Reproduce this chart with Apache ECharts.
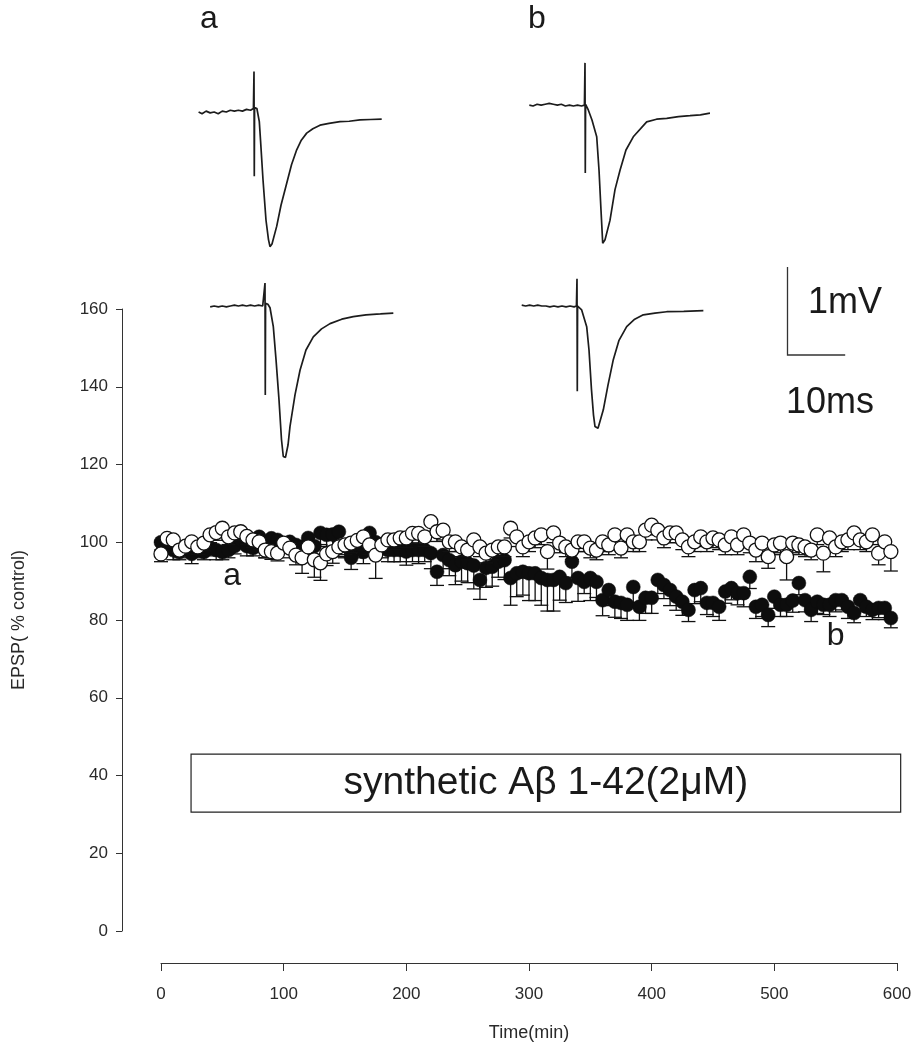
<!DOCTYPE html>
<html><head><meta charset="utf-8">
<script src="https://cdn.jsdelivr.net/npm/echarts@6/dist/echarts.min.js"></script>
<style>html,body{margin:0;padding:0;background:#fff}#c{width:919px;height:1051px}</style>
</head><body><div id="c"></div>
<script>
// ---------- data ----------
const times = [0,5,10,15,20,25,30,35,40,45,50,55,60,65,70,75,80,85,90,95,100,105,110,115,
120,125,130,135,140,145,150,155,160,165,170,175,180,185,190,195,200,205,210,215,220,225,230,235,
240,245,250,255,260,265,270,275,280,285,290,295,300,305,310,315,320,325,330,335,340,345,350,355,
360,365,370,375,380,385,390,395,400,405,410,415,420,425,430,435,440,445,450,455,460,465,470,475,
480,485,490,495,500,505,510,515,520,525,530,535,540,545,550,555,560,565,570,575,580,585,590,595];

// open circles (control)
const controlMean = [97,101,100.6,98,99,100.1,98.8,99.8,101.9,102.5,103.6,101.4,
102.4,102.7,101.5,100.6,100.1,98,97.6,97.2,99.8,98.5,96.7,96,
98.8,95.5,94.7,97,97.6,98.8,99.3,99.8,100.5,101.4,99.3,96.7,
99.3,100.6,100.6,101.1,101.1,102.3,102.3,101.4,105.3,102.7,103.1,100.1,
100.1,98.8,98,100.6,98.8,97.2,98,98.8,98.8,103.6,101.4,98.8,
100.1,101.1,101.9,97.6,102.4,99.8,98.8,98,100.1,100.1,98.5,98,
100.1,99.3,101.9,98.5,101.9,100.1,100.1,103.1,104.4,103.1,101.1,102.4,
102.4,100.6,98.8,100.1,101.4,100.1,101.1,100.6,99.3,101.4,99.3,101.9,
99.8,98,99.8,96.3,99.3,99.8,96.3,99.8,99.3,98.8,98,101.9,
97.2,101.1,98.8,100.1,100.6,102.4,100.6,100.1,101.9,97.2,100.1,97.6];
const controlErr = [2,2,2,2,2,2,2,2,2,2,2,2,
2,2,2,2,2,2,2,2,2,2.5,2.5,4,
3,4.5,4.5,3,3,2.5,2.5,2.5,2.5,2.5,2.5,6,
2.5,2.5,2.5,2.5,2.5,2.5,2.5,2.5,2.5,2.5,2.5,2.5,
2.5,2.5,2.5,2.5,2.5,2.5,2.5,2.5,2.5,2.5,2.5,2.5,
2.5,2.5,2.5,4.5,2.5,2.5,2.5,2.5,2.5,2.5,2.5,2.5,
2.5,2.5,2.5,2.5,2.5,2.5,2.5,2.5,2.5,2.5,2.5,2.5,
2.5,2.5,2.5,2.5,2.5,2.5,2.5,2.5,2.5,2.5,2.5,2.5,
2.5,3,2.5,3,2.5,2.5,6,2.5,2.5,2.5,2.5,2.5,
4.8,2.5,2.5,2.5,2.5,2.5,2.5,2.5,2.5,3,2.5,5];

// filled circles (synthetic Abeta 1-42)
const abetaMean = [100,99.5,98,97.5,98.5,97,98,97.5,98.5,98,97.5,98,
99,100.6,99,98.5,101.4,99,101,100.6,99.5,100.1,99.3,98.8,
101.1,99,102.4,101.9,102,102.7,99,96,99,97.5,102.4,100,
99,98,98,98,97.6,98,98,98,97.2,92.4,96.7,95.4,
94.1,95,94.6,94,90.3,93.4,93.7,95,95.4,90.8,92,92.4,
92,92,90.8,90.3,90.3,91.1,89.5,95,90.8,89.8,90.8,89.8,
85.1,87.7,84.7,84.4,83.9,88.5,83.4,85.7,85.7,90.3,89,87.7,
86,84.7,82.6,87.7,88.2,84.4,84.4,83.4,87.3,88.2,86.9,86.9,
91.1,83.4,83.9,81.3,86,83.9,83.9,85,89.5,85.1,82.6,84.7,
83.9,83.9,85.1,85.1,83.4,81.8,85.1,83.4,82.6,83.1,83.1,80.5];
const abetaErr = [2,2,2.5,2,2,2.5,2,2,2,2.5,2,2,
2,2,2.5,2,2,3,2,2,2,2,3,2,
3,2.5,3,3,3,2.5,3,3,3,3,2.5,3,
3,3,3,3,3.5,3,3.5,3,4,3.5,3.5,4,
5,5,5,6,5,5,5,4,5,7,6,6,
7,7,7,8,8,6,5,4,6,3,5.8,4,
4,4,4,4,4,4,3.5,4,4,3.5,3.5,4,
3.5,3.5,3,3.5,3.5,3,3.5,3.5,3,3,3,3.5,
3,3,3,3,3,3,3,3,3,3,3,3,
2.5,3,3,2.5,3,2.5,3,2.5,2.5,2.5,3,2.5];

const yTicks = [0,20,40,60,80,100,120,140,160];
const xTicks = [0,100,200,300,400,500,600];

// EPSP traces [ms from stimulus, mV from baseline]
const traceATop = [[-9.6,0.00],[-9.0,-0.02],[-8.3,0.01],[-7.6,-0.01],[-6.9,0.00],[-6.2,-0.02],[-5.5,0.01],[-4.8,0.00],[-4.1,0.02],[-3.4,0.01],[-2.7,0.02],[-2.0,0.01],[-1.3,0.03],[-0.6,0.02],[-0.1,0.04],[0,0.46],[0.05,-0.73],[0.1,0.05],[0.5,0.04],[0.92,-0.11],[1.13,-0.32],[1.56,-0.77],[2.08,-1.23],[2.51,-1.45],[2.77,-1.53],[3.12,-1.50],[3.93,-1.30],[4.68,-1.06],[5.67,-0.81],[6.5,-0.60],[7.40,-0.43],[8.2,-0.32],[9.13,-0.24],[10.2,-0.19],[11.44,-0.15],[13,-0.13],[14.9,-0.11],[16.5,-0.105],[18.37,-0.09],[20.2,-0.085],[22.13,-0.08]];
const traceABottom = [[-9.5,-0.01],[-8.8,0.00],[-8.1,-0.01],[-7.4,0.00],[-6.7,-0.01],[-6.0,0.00],[-5.3,0.01],[-4.6,0.00],[-3.9,0.01],[-3.2,0.00],[-2.5,0.01],[-1.8,0.00],[-1.1,0.01],[-0.4,0.00],[-0.1,0.02],[0,0.26],[0.05,-1.01],[0.1,0.03],[0.5,0.02],[0.87,-0.02],[1.44,-0.235],[1.91,-0.61],[2.43,-1.07],[2.86,-1.52],[3.17,-1.71],[3.55,-1.72],[3.99,-1.58],[4.33,-1.37],[5.2,-1.01],[6.07,-0.73],[7.1,-0.50],[8.37,-0.35],[9.8,-0.26],[11.27,-0.20],[13.3,-0.15],[15.3,-0.12],[17.5,-0.10],[20,-0.09],[22.24,-0.08]];
const traceBTop = [[-9.65,0.01],[-9.0,0.00],[-8.3,0.02],[-7.6,0.01],[-6.9,0.02],[-6.2,0.03],[-5.5,0.02],[-4.8,0.01],[-4.1,0.02],[-3.4,0.00],[-2.7,0.01],[-2.0,0.00],[-1.3,0.01],[-0.6,0.00],[-0.1,0.01],[0,0.49],[0.05,-0.76],[0.1,0.02],[0.57,-0.045],[1.21,-0.16],[2.03,-0.35],[2.43,-0.73],[2.77,-1.18],[3.07,-1.56],[3.47,-1.52],[4.33,-1.30],[5.2,-0.95],[6.07,-0.73],[7.1,-0.50],[8.37,-0.35],[10.69,-0.18],[12.4,-0.15],[14.16,-0.14],[16.2,-0.12],[18.2,-0.11],[20,-0.10],[21.66,-0.08]];
const traceBBottom = [[-9.58,0.01],[-8.9,0.00],[-8.2,0.01],[-7.5,0.00],[-6.8,0.01],[-6.1,0.00],[-5.4,0.00],[-4.7,-0.01],[-4.0,0.00],[-3.3,-0.01],[-2.6,0.00],[-1.9,-0.01],[-1.2,0.00],[-0.5,-0.01],[-0.1,0.00],[0,0.31],[0.05,-0.97],[0.1,0.0],[0.81,-0.045],[1.68,-0.235],[2.08,-0.50],[2.51,-0.95],[2.86,-1.24],[3.12,-1.37],[3.64,-1.39],[4.56,-1.18],[5.37,-0.90],[6.29,-0.61],[7.28,-0.39],[8.61,-0.235],[10,-0.15],[11.49,-0.10],[13.5,-0.08],[15.55,-0.065],[18.5,-0.06],[21.9,-0.053]];

const boxX = [24.5, 603];   // minutes
const boxY = [30.6, 45.5];  // % control
const boxText = 'synthetic A\u03b2 1-42(2\u03bcM)';

// ---------- chart ----------
const FONT = "'Liberation Sans', Arial, sans-serif";
const INK = '#1a1a1a';
const LAB = '#2a2a2a';
const chart = echarts.init(document.getElementById('c'), null, {renderer: 'canvas'});

const zip = (t, m, e) => t.map((x, i) => [x, m[i], e[i]]);
function errRender(params, api) {
  const x = api.value(0), m = api.value(1), e = api.value(2);
  const p0 = api.coord([x, m]);
  const p1 = api.coord([x, m - e]);
  const hw = 7;
  const st = {stroke: '#111', lineWidth: 1.3};
  return {type: 'group', children: [
    {type: 'line', shape: {x1: p0[0], y1: p0[1], x2: p1[0], y2: p1[1]}, style: st},
    {type: 'line', shape: {x1: p1[0] - hw, y1: p1[1], x2: p1[0] + hw, y2: p1[1]}, style: st}
  ]};
}

// inset geometry: 5.77 px/ms, 88 px/mV
const MS_MIN = -10, MS_MAX = 24, MV_MIN = -1.8, MV_MAX = 0.6;
const PXMS = 5.77, PXMV = 88;
const insetW = (MS_MAX - MS_MIN) * PXMS, insetH = (MV_MAX - MV_MIN) * PXMV;
const insetOrigins = [[254, 112], [265, 306], [585, 106], [577, 306]];
const traces = [traceATop, traceABottom, traceBTop, traceBBottom];

const grids = [{left: 161, top: 309, width: 736, height: 622}];
const xAxes = [{
  type: 'value', gridIndex: 0, min: 0, max: 600, interval: 100, offset: 32, position: 'bottom',
  axisLine: {show: true, onZero: false, lineStyle: {color: '#333', width: 1}},
  axisTick: {show: true, length: 8, lineStyle: {color: '#333', width: 1}},
  axisLabel: {fontSize: 17, color: LAB, margin: 23, fontFamily: FONT,
    formatter: v => xTicks.includes(v) ? String(v) : ''},
  splitLine: {show: false},
  name: 'Time(min)', nameLocation: 'middle', nameGap: 61,
  nameTextStyle: {fontSize: 18, color: LAB, fontFamily: FONT}
}];
const yAxes = [{
  type: 'value', gridIndex: 0, min: 0, max: 160, interval: 20, offset: 39,
  axisLine: {show: true, onZero: false, lineStyle: {color: '#333', width: 1}},
  axisTick: {show: true, length: 6, lineStyle: {color: '#333', width: 1}},
  axisLabel: {fontSize: 17, color: LAB, margin: 14, fontFamily: FONT,
    formatter: v => yTicks.includes(v) ? String(v) : ''},
  splitLine: {show: false},
  name: 'EPSP( % control)', nameLocation: 'middle', nameGap: 94, nameRotate: 90,
  nameTextStyle: {fontSize: 18, color: LAB, fontFamily: FONT}
}];
const series = [
  {type: 'custom', xAxisIndex: 0, yAxisIndex: 0, renderItem: errRender, encode: {x: 0, y: 1},
   data: zip(times, abetaMean, abetaErr), z: 2},
  {type: 'scatter', xAxisIndex: 0, yAxisIndex: 0, symbol: 'circle', symbolSize: 14,
   itemStyle: {color: '#0d0d0d', borderColor: '#0d0d0d', borderWidth: 0.5, opacity: 1},
   data: times.map((t, i) => [t, abetaMean[i]]), z: 3},
  {type: 'custom', xAxisIndex: 0, yAxisIndex: 0, renderItem: errRender, encode: {x: 0, y: 1},
   data: zip(times, controlMean, controlErr), z: 4},
  {type: 'scatter', xAxisIndex: 0, yAxisIndex: 0, symbol: 'circle', symbolSize: 14,
   itemStyle: {color: '#ffffff', borderColor: '#111', borderWidth: 1.3, opacity: 1},
   data: times.map((t, i) => [t, controlMean[i]]), z: 5}
];
insetOrigins.forEach((o, k) => {
  const gi = k + 1;
  grids.push({left: o[0] - (0 - MS_MIN) * PXMS, top: o[1] - MV_MAX * PXMV, width: insetW, height: insetH});
  xAxes.push({type: 'value', gridIndex: gi, min: MS_MIN, max: MS_MAX, show: false});
  yAxes.push({type: 'value', gridIndex: gi, min: MV_MIN, max: MV_MAX, show: false});
  series.push({type: 'line', xAxisIndex: gi, yAxisIndex: gi, data: traces[k], showSymbol: false,
    symbol: 'none', lineStyle: {color: '#1c1c1c', width: 1.7}, z: 6});
});

chart.setOption({
  animation: false,
  backgroundColor: '#ffffff',
  grid: grids, xAxis: xAxes, yAxis: yAxes, series: series
});

// annotations positioned through the main axes
const P = (x, y) => chart.convertToPixel({gridIndex: 0}, [x, y]);
const b0 = P(boxX[0], boxY[1]), b1 = P(boxX[1], boxY[0]);
const aLab = P(58, 91.3), bLab = P(550, 75.9);
const txt = (x, y, s, size, align) => ({type: 'text', x: x, y: y, style: {
  text: s, fontSize: size, fontFamily: FONT, fill: INK, align: align || 'center', verticalAlign: 'middle'}});
chart.setOption({graphic: [
  {type: 'rect', shape: {x: b0[0], y: b0[1], width: b1[0] - b0[0], height: b1[1] - b0[1]},
   style: {fill: 'none', stroke: '#222', lineWidth: 1.2}},
  txt((b0[0] + b1[0]) / 2, (b0[1] + b1[1]) / 2, boxText, 39),
  txt(aLab[0], aLab[1], 'a', 32),
  txt(bLab[0], bLab[1], 'b', 32),
  txt(209, 19, 'a', 32),
  txt(537, 19, 'b', 32),
  // scale bar 1 mV / 10 ms, drawn at inset scale
  {type: 'polyline', shape: {points: [[787.5, 355 - PXMV], [787.5, 355], [787.5 + 10 * PXMS, 355]]},
   style: {stroke: '#333', lineWidth: 1.3, fill: 'none'}},
  txt(808, 303, '1mV', 36, 'left'),
  txt(786, 403, '10ms', 36, 'left')
]});
</script></body></html>
